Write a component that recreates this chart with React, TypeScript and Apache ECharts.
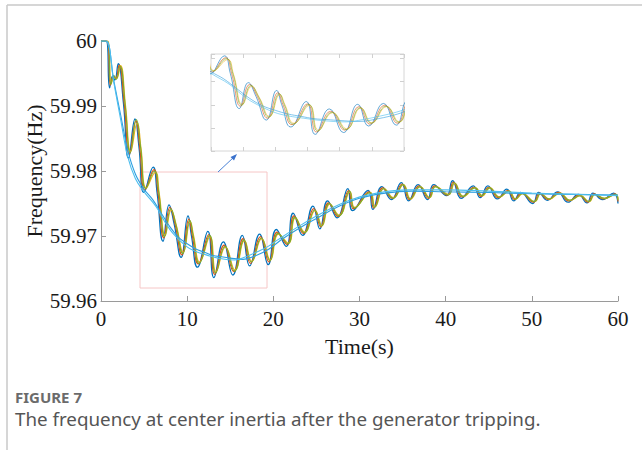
import React, { useEffect, useRef } from "react";
import * as echarts from "echarts";

type P = [number, number];

const xTicks = [0, 10, 20, 30, 40, 50, 60];
const yTicks = [59.96, 59.97, 59.98, 59.99, 60];

const traceBlue: P[] = [[0,60.0],[0.6,60.0],[1.0,59.9928],[1.35,59.9946],[1.6,59.994],[2.0,59.9965],[2.6,59.9905],[3.2,59.982],[3.95,59.988],[4.4,59.9838],[5.0,59.9767],[6.05,59.9806],[6.5,59.9768],[7.2,59.9692],[7.9,59.9748],[8.5,59.9718],[9.3,59.9667],[10.1,59.9731],[10.5,59.97],[11.2,59.9652],[12.4,59.9707],[13.1,59.9636],[14.2,59.9691],[15.3,59.964],[16.4,59.9701],[17.25,59.9654],[18.4,59.9703],[19.4,59.9656],[20.35,59.971],[21.5,59.9684],[22.3,59.9735],[23.4,59.9701],[24.6,59.9746],[25.4,59.9711],[26.3,59.9754],[27.4,59.9728],[28.65,59.9773],[29.2,59.9739],[31.0,59.977],[31.55,59.9741],[32.6,59.9776],[33.7,59.9756],[34.85,59.9782],[35.7,59.9754],[36.8,59.9779],[37.9,59.9756],[38.6,59.9779],[40.1,59.9762],[40.8,59.9785],[41.8,59.9758],[43.2,59.9777],[44.0,59.9759],[44.9,59.9777],[46.0,59.9757],[47.1,59.9772],[47.9,59.9754],[48.7,59.9767],[50.1,59.975],[50.8,59.9767],[51.8,59.9755],[53.0,59.9768],[54.2,59.9752],[55.4,59.9764],[56.4,59.9751],[57.1,59.9766],[58.2,59.9756],[59.5,59.9766],[60,59.975]];

const traceOrange: P[] = [[0,60.0],[0.7,60.0],[1.1,59.9932],[1.45,59.9946],[1.7,59.9942],[2.1,59.9963],[2.7,59.9903],[3.3,59.9826],[4.05,59.9877],[4.5,59.9836],[5.1,59.9771],[6.15,59.9802],[6.6,59.9768],[7.3,59.9697],[8.0,59.9744],[8.6,59.9718],[9.4,59.9671],[10.2,59.9726],[10.6,59.97],[11.3,59.9657],[12.5,59.9702],[13.2,59.9641],[14.3,59.9686],[15.4,59.9645],[16.5,59.9696],[17.35,59.9658],[18.5,59.9699],[19.5,59.966],[20.45,59.9706],[21.6,59.9687],[22.4,59.9731],[23.5,59.9704],[24.7,59.9742],[25.5,59.9714],[26.4,59.9751],[27.5,59.973],[28.75,59.977],[29.3,59.9742],[31.1,59.9768],[31.65,59.9743],[32.7,59.9774],[33.8,59.9758],[34.95,59.978],[35.8,59.9756],[36.9,59.9777],[38.0,59.9758],[38.7,59.9777],[40.2,59.9763],[40.9,59.9783],[41.9,59.976],[43.3,59.9775],[44.1,59.9761],[45.0,59.9775],[46.1,59.9759],[47.2,59.977],[48.0,59.9756],[48.8,59.9766],[50.2,59.9752],[50.9,59.9766],[51.9,59.9756],[53.1,59.9767],[54.3,59.9754],[55.5,59.9763],[56.5,59.9752],[57.2,59.9765],[58.3,59.9757],[59.6,59.9765],[60,59.9753]];

const traceYellow: P[] = [[0,60.0],[0.8,60.0],[1.2,59.9935],[1.55,59.9945],[1.8,59.9942],[2.25,59.9962],[2.85,59.99],[3.45,59.983],[4.2,59.9874],[4.65,59.9834],[5.25,59.9774],[6.3,59.9798],[6.75,59.9766],[7.45,59.9701],[8.15,59.974],[8.75,59.9716],[9.55,59.9675],[10.35,59.9722],[10.75,59.97],[11.45,59.966],[12.65,59.9699],[13.35,59.9645],[14.45,59.9683],[15.55,59.9648],[16.65,59.9693],[17.5,59.9661],[18.65,59.9696],[19.65,59.9663],[20.6,59.9703],[21.75,59.9689],[22.55,59.9728],[23.65,59.9706],[24.85,59.9739],[25.65,59.9716],[26.55,59.9749],[27.65,59.9732],[28.9,59.9768],[29.45,59.9744],[31.25,59.9767],[31.8,59.9745],[32.85,59.9773],[33.95,59.9759],[35.1,59.9779],[35.95,59.9757],[37.05,59.9776],[38.15,59.9759],[38.85,59.9776],[40.35,59.9764],[41.05,59.9781],[42.05,59.9761],[43.45,59.9774],[44.25,59.9762],[45.15,59.9774],[46.25,59.976],[47.35,59.9769],[48.15,59.9757],[48.95,59.9765],[50.35,59.9753],[51.05,59.9765],[52.05,59.9757],[53.25,59.9766],[54.45,59.9755],[55.65,59.9762],[56.65,59.9753],[57.35,59.9764],[58.45,59.9758],[59.75,59.9764],[60,59.9756]];

const traceGreen: P[] = [[0,60.0],[0.75,60.0],[1.15,59.9933],[1.5,59.9947],[1.75,59.9941],[2.2,59.9961],[2.8,59.9902],[3.4,59.9828],[4.1,59.9879],[4.6,59.9836],[5.2,59.9773],[6.2,59.98],[6.7,59.9767],[7.4,59.9699],[8.1,59.9742],[8.7,59.9717],[9.5,59.9673],[10.3,59.9724],[10.7,59.97],[11.4,59.9658],[12.6,59.9701],[13.3,59.9643],[14.4,59.9684],[15.5,59.9646],[16.6,59.9694],[17.45,59.966],[18.6,59.9697],[19.6,59.9662],[20.55,59.9704],[21.7,59.9688],[22.5,59.9729],[23.6,59.9705],[24.8,59.974],[25.6,59.9715],[26.5,59.975],[27.6,59.9731],[28.85,59.9769],[29.4,59.9743],[31.2,59.9767],[31.75,59.9744],[32.8,59.9773],[33.9,59.9758],[35.05,59.9779],[35.9,59.9757],[37.0,59.9776],[38.1,59.9759],[38.8,59.9776],[40.3,59.9763],[41.0,59.9782],[42.0,59.9761],[43.4,59.9774],[44.2,59.9762],[45.1,59.9774],[46.2,59.976],[47.3,59.9769],[48.1,59.9757],[48.9,59.9765],[50.3,59.9753],[51.0,59.9765],[52.0,59.9757],[53.2,59.9766],[54.4,59.9755],[55.6,59.9762],[56.6,59.9753],[57.3,59.9764],[58.4,59.9758],[59.7,59.9764],[60,59.9755]];

const smoothA: P[] = [[0,60.0],[0.6,60.0],[1.5,59.9935],[2.3,59.9878],[3.1,59.9822],[4.0,59.9788],[5.0,59.9768],[6.4,59.9745],[7.4,59.9722],[8.35,59.9704],[9.9,59.9684],[11.0,59.9676],[12.2,59.9671],[13.6,59.9666],[15.5,59.9663],[16.8,59.9668],[18.2,59.9676],[19.4,59.9684],[20.5,59.9694],[22.85,59.9714],[25.6,59.9735],[28.85,59.9755],[32,59.9766],[35.8,59.9771],[40,59.9771],[45,59.9769],[50,59.9766],[55,59.9764],[60,59.9762]];

const smoothB: P[] = [[0,60.0],[0.6,60.0],[1.5,59.9938],[2.3,59.9885],[3.1,59.9832],[4.0,59.9795],[5.0,59.9772],[6.0,59.9756],[7.0,59.9735],[8.0,59.9714],[9.0,59.9698],[10.0,59.9688],[11.0,59.968],[12.0,59.9675],[13.0,59.967],[14.0,59.9668],[15.0,59.9666],[16.5,59.9664],[18.0,59.967],[19.5,59.968],[21.0,59.9695],[23.0,59.9712],[25.0,59.9727],[27.5,59.9745],[30,59.9758],[33,59.9766],[36,59.9769],[40,59.9768],[45,59.9767],[50,59.9765],[55,59.9764],[60,59.9763]];

const traces = [
  { data: traceBlue, color: "#0072BD", smooth: 0.5, w: 1.3 },
  { data: traceOrange, color: "#D95319", smooth: 0.5, w: 1.2 },
  { data: traceYellow, color: "#EDB120", smooth: 0.5, w: 1.2 },
  { data: traceGreen, color: "#77AC30", smooth: 0.5, w: 1.1 },
  { data: smoothB, color: "#2E9FE0", smooth: 0.4, w: 1.1 },
  { data: smoothA, color: "#4DBEEE", smooth: 0.4, w: 1.1 },
];

const serif = "Liberation Serif";
const sans = "Noto Sans";
const axisGray = "#9a9a9a";

export default function App() {
  const ref = useRef<HTMLDivElement>(null);
  useEffect(() => {
    if (!ref.current) return;
    const chart = echarts.init(ref.current, undefined, { renderer: "svg" });
    const mainSeries = traces.map((t) => ({
      type: "line",
      xAxisIndex: 0,
      yAxisIndex: 0,
      data: t.data,
      smooth: t.smooth,
      showSymbol: false,
      lineStyle: { color: t.color, width: t.w },
      itemStyle: { color: t.color },
      silent: true,
    }));
    const insetSeries = traces.map((t) => ({
      type: "line",
      xAxisIndex: 1,
      yAxisIndex: 1,
      data: t.data,
      smooth: t.smooth,
      showSymbol: false,
      lineStyle: { color: t.color, width: 1, opacity: 0.6 },
      itemStyle: { color: t.color },
      silent: true,
    }));
    const hiddenAxisCommon = {
      axisLabel: { show: false },
      splitLine: { show: false },
      axisLine: { show: false },
      axisTick: { show: true, inside: true, length: 4, lineStyle: { color: "#d0d0d0" } },
    };
    chart.setOption({
      animation: false,
      backgroundColor: "#ffffff",
      textStyle: { fontFamily: serif },
      grid: [
        { left: 101, top: 41, width: 517, height: 260 },
        { left: 211, top: 54, width: 193, height: 97, show: true, borderColor: "#d6d6d6", borderWidth: 1, backgroundColor: "#ffffff" },
      ],
      xAxis: [
        {
          type: "value",
          gridIndex: 0,
          min: xTicks[0],
          max: xTicks[xTicks.length - 1],
          interval: 10,
          name: "Time(s)",
          nameLocation: "middle",
          nameGap: 34,
          nameMoveOverlap: false,
          nameTextStyle: { fontFamily: serif, fontSize: 22, color: "#1a1a1a" },
          axisLine: { show: true, lineStyle: { color: axisGray, width: 1 } },
          axisTick: { show: true, inside: true, length: 5, lineStyle: { color: axisGray } },
          axisLabel: { fontFamily: serif, fontSize: 21, color: "#1a1a1a", margin: 7 },
          splitLine: { show: false },
        },
        { type: "value", gridIndex: 1, min: 5, max: 20, interval: 2.5, position: "bottom", ...hiddenAxisCommon },
        { type: "value", gridIndex: 1, min: 5, max: 20, interval: 2.5, position: "top", ...hiddenAxisCommon },
      ],
      yAxis: [
        {
          type: "value",
          gridIndex: 0,
          min: yTicks[0],
          max: yTicks[yTicks.length - 1],
          interval: 0.01,
          name: "Frequency(Hz)",
          nameLocation: "middle",
          nameGap: 56,
          nameMoveOverlap: false,
          nameRotate: 90,
          nameTextStyle: { fontFamily: serif, fontSize: 22, color: "#1a1a1a" },
          axisLine: { show: true, lineStyle: { color: axisGray, width: 1 } },
          axisTick: { show: true, inside: true, length: 5, lineStyle: { color: axisGray } },
          axisLabel: {
            fontFamily: serif,
            fontSize: 21,
            color: "#1a1a1a",
            margin: 4,
            formatter: (v: number) => String(+v.toFixed(2)),
          },
          splitLine: { show: false },
        },
        { type: "value", gridIndex: 1, min: 59.96, max: 59.981, interval: 0.005, position: "left", ...hiddenAxisCommon },
        { type: "value", gridIndex: 1, min: 59.96, max: 59.981, interval: 0.005, position: "right", ...hiddenAxisCommon },
      ],
      series: [...mainSeries, ...insetSeries],
      graphic: [
        { type: "line", shape: { x1: 7, y1: 5, x2: 642, y2: 5 }, style: { stroke: "#c8c8c8", lineWidth: 1.5 }, silent: true },
        { type: "line", shape: { x1: 7, y1: 5, x2: 7, y2: 450 }, style: { stroke: "#c8c8c8", lineWidth: 1.5 }, silent: true },
        { type: "rect", shape: { x: 140, y: 172, width: 127, height: 116 }, style: { fill: "none", stroke: "#f6c6c6", lineWidth: 1 }, silent: true },
        { type: "line", shape: { x1: 218, y1: 172, x2: 234, y2: 157 }, style: { stroke: "#4a82d6", lineWidth: 1 }, silent: true },
        { type: "polygon", shape: { points: [[237, 154], [230.5, 157], [234, 160.5]] }, style: { fill: "#3a72cc" }, silent: true },
        {
          type: "text",
          x: 15,
          y: 389,
          style: { text: "FIGURE 7", fontFamily: sans, fontSize: 15, fontWeight: "bold", fill: "#6b6b6b" },
          silent: true,
        },
        {
          type: "text",
          x: 15,
          y: 409,
          style: { text: "The frequency at center inertia after the generator tripping.", fontFamily: sans, fontSize: 18.8, fill: "#555555" },
          silent: true,
        },
      ],
    });
    return () => chart.dispose();
  }, []);
  return <div ref={ref} style={{ position: "fixed", left: 0, top: 0, width: 642, height: 450 }} />;
}
